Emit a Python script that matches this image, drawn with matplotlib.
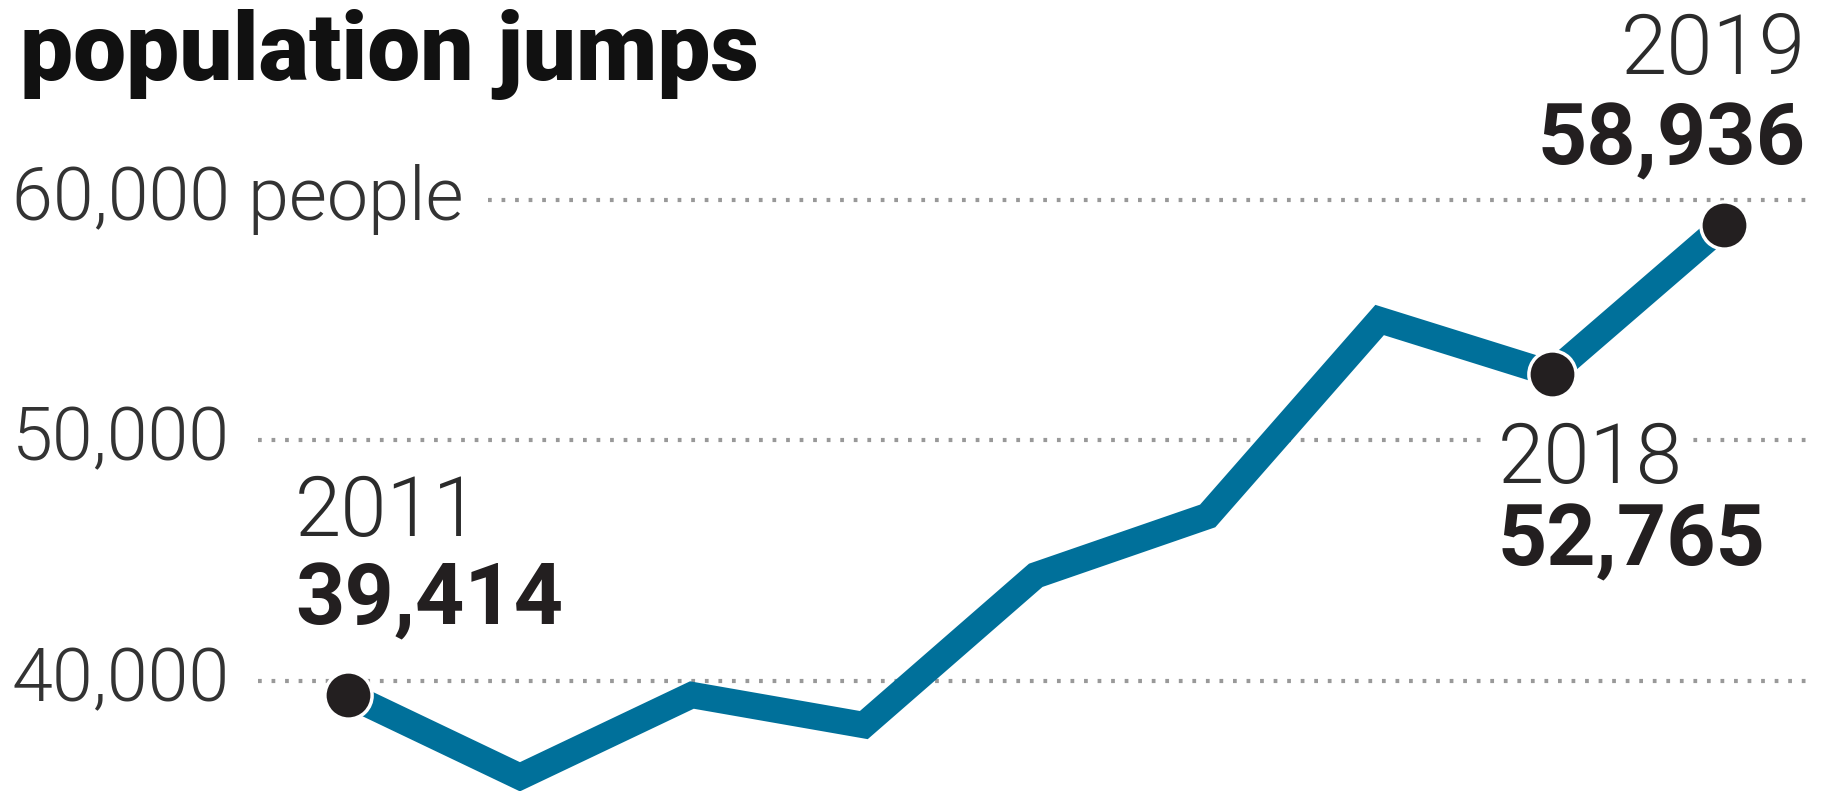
import matplotlib.pyplot as plt
from matplotlib import transforms

# Population by year
years = [2011, 2012, 2013, 2014, 2015, 2016, 2017, 2018, 2019]
population = [39414, 36000, 39400, 38150, 44380, 46850, 55000, 52765, 58936]

# Horizontal reference lines and their labels
grid_values = [40000, 50000, 60000]
grid_labels = ['40,000', '50,000', '60,000 people']

# Years that get a dot and a value callout
callout_years = [2011, 2018, 2019]

plt.rcParams['font.family'] = ['Roboto', 'DejaVu Sans']

W, H = 1821, 791
fig = plt.figure(figsize=(W / 100, H / 100), dpi=100)
ax = fig.add_axes([0, 0, 1, 1])
ax.set_xlim(2008.976, 2019.567)
ax.set_ylim(35408, 68311)
ax.axis('off')

line_color = '#00709a'
dot_color = '#231f20'
text_dark = '#231f20'

# dotted gridlines, left-edge labels
label_tf = transforms.blended_transform_factory(ax.transAxes, ax.transData)
grid_start = {40000: 258, 50000: 258, 60000: 488}
for val, lab in zip(grid_values, grid_labels):
    ax.axhline(val, xmin=grid_start[val] / W, xmax=1808 / W, color='#999999',
               lw=3, ls=(0, (0.9, 2.35)), zorder=1)
    ax.text(12 / W, val, lab, transform=label_tf, ha='left', va='center',
            fontsize=53, fontweight=300, color='#333333')

# the population line
ax.plot(years, population, color=line_color, lw=19, solid_joinstyle='miter',
        solid_capstyle='butt', zorder=2)

# end-point dots
cx = [y for y in callout_years]
cy = [population[years.index(y)] for y in callout_years]
ax.plot(cx, cy, 'o', ms=34, mfc=dot_color, mec='white', mew=2.5, zorder=3)

# callouts: (year offset x, year offset y, value offset y, alignment, white box)
offsets = {
    2011: (-53, 159, 70, 'left', False),
    2018: (-54, -109, -192, 'left', True),
    2019: (82, 151, 61, 'right', False),
}
for yr in callout_years:
    val = population[years.index(yr)]
    dx, dy_year, dy_val, ha, boxed = offsets[yr]
    bbox = dict(facecolor='white', edgecolor='none', pad=8) if boxed else None
    ax.annotate(str(yr), (yr, val), xytext=(dx, dy_year), textcoords='offset pixels',
                ha=ha, va='baseline', fontsize=60, fontweight=300,
                color='#2b2b2b', bbox=bbox, zorder=1.5)
    ax.annotate(f'{val:,}', (yr, val), xytext=(dx, dy_val), textcoords='offset pixels',
                ha=ha, va='baseline', fontsize=62, fontweight='bold',
                color=text_dark, zorder=1.5)

fig.text(20 / W, 1 - 80 / H, 'population jumps', fontsize=68, fontweight=900,
         color='#111111', ha='left', va='baseline')

fig.savefig('out.png', dpi=100)
